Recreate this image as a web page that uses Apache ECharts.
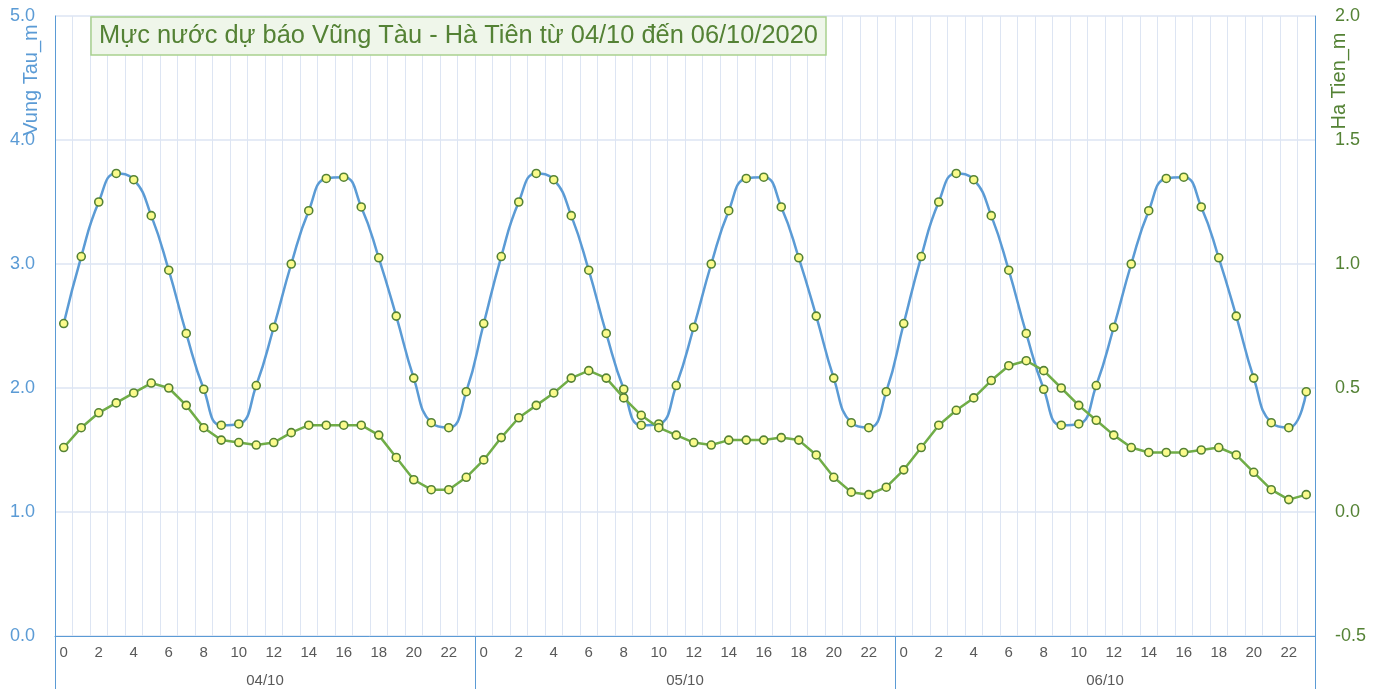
<!DOCTYPE html>
<html>
<head>
<meta charset="utf-8">
<script src="https://cdn.jsdelivr.net/npm/echarts@6/dist/echarts.min.js"></script>
<style>html,body{margin:0;padding:0;background:#fff;}#c{width:1383px;height:689px;}</style>
</head>
<body>
<div id="c"></div>
<script>
// ---- data ----
const titleText = 'Mực nước dự báo Vũng Tàu - Hà Tiên từ 04/10 đến 06/10/2020';
const dayLabels = ['04/10', '05/10', '06/10'];
const hourLabels = ['0','1','2','3','4','5','6','7','8','9','10','11','12','13','14','15','16','17','18','19','20','21','22','23'];
const leftTicks = [0, 1, 2, 3, 4, 5];
const rightTicks = [-0.5, 0, 0.5, 1.0, 1.5, 2.0];

// Vung Tau (m), left axis
const vungTauDay1 = [2.52, 3.06, 3.50, 3.73, 3.68, 3.39, 2.95, 2.44, 1.99, 1.70, 1.71, 2.02, 2.49, 3.00, 3.43, 3.69, 3.70, 3.46, 3.05, 2.58, 2.08, 1.72, 1.68, 1.97];
const vungTauDay2 = [2.52, 3.06, 3.50, 3.73, 3.68, 3.39, 2.95, 2.44, 1.99, 1.70, 1.71, 2.02, 2.49, 3.00, 3.43, 3.69, 3.70, 3.46, 3.05, 2.58, 2.08, 1.72, 1.68, 1.97];
const vungTauDay3 = [2.52, 3.06, 3.50, 3.73, 3.68, 3.39, 2.95, 2.44, 1.99, 1.70, 1.71, 2.02, 2.49, 3.00, 3.43, 3.69, 3.70, 3.46, 3.05, 2.58, 2.08, 1.72, 1.68, 1.97];

// Ha Tien (m), right axis
const haTienDay1 = [0.26, 0.34, 0.40, 0.44, 0.48, 0.52, 0.50, 0.43, 0.34, 0.29, 0.28, 0.27, 0.28, 0.32, 0.35, 0.35, 0.35, 0.35, 0.31, 0.22, 0.13, 0.09, 0.09, 0.14];
const haTienDay2 = [0.21, 0.30, 0.38, 0.43, 0.48, 0.54, 0.57, 0.54, 0.46, 0.39, 0.34, 0.31, 0.28, 0.27, 0.29, 0.29, 0.29, 0.30, 0.29, 0.23, 0.14, 0.08, 0.07, 0.10];
const haTienDay3 = [0.17, 0.26, 0.35, 0.41, 0.46, 0.53, 0.59, 0.61, 0.57, 0.50, 0.43, 0.37, 0.31, 0.26, 0.24, 0.24, 0.24, 0.25, 0.26, 0.23, 0.16, 0.09, 0.05, 0.07];

// ---- build ----
const categories = [];
dayLabels.forEach(() => hourLabels.forEach(h => categories.push(h)));
const vungTau = vungTauDay1.concat(vungTauDay2, vungTauDay3);
const haTien = haTienDay1.concat(haTienDay2, haTienDay3);

const FONT = '"Liberation Sans", Arial, sans-serif';
const BLUE = '#5b9bd5';
const GREEN_TXT = '#548235';
const GRID_C = '#dde5f3';

const marker = {
  color: '#fbfb8c',
  borderColor: '#548235',
  borderWidth: 1.6
};

const chart = echarts.init(document.getElementById('c'), null, { renderer: 'canvas' });
chart.setOption({
  animation: false,
  textStyle: { fontFamily: FONT },
  title: {
    text: titleText,
    left: 91,
    top: 17,
    padding: [5, 8, 5, 8],
    backgroundColor: '#eff6ea',
    borderColor: '#a9d18e',
    borderWidth: 1.5,
    textStyle: { color: GREEN_TXT, fontSize: 25.4, fontWeight: 'normal', fontFamily: FONT, lineHeight: 28 }
  },
  grid: { left: 55, right: 68, top: 16, bottom: 53, containLabel: false },
  graphic: [
    {
      type: 'text', x: 31, y: 80, rotation: Math.PI / 2,
      style: { text: 'Vung Tau_m', fill: BLUE, font: '20px ' + FONT, textAlign: 'center', textVerticalAlign: 'middle' }
    },
    {
      type: 'text', x: 1339, y: 81, rotation: Math.PI / 2,
      style: { text: 'Ha Tien_m', fill: GREEN_TXT, font: '20px ' + FONT, textAlign: 'center', textVerticalAlign: 'middle' }
    }
  ],
  xAxis: [
    {
      type: 'category',
      data: categories,
      boundaryGap: true,
      axisLine: { show: true, onZero: false, lineStyle: { color: BLUE, width: 1 } },
      axisTick: { show: false },
      axisLabel: { interval: 1, color: '#595959', fontSize: 15, margin: 9, fontFamily: FONT },
      splitLine: { show: true, interval: 0, lineStyle: { color: GRID_C, width: 1 } }
    },
    {
      type: 'category',
      data: dayLabels,
      position: 'bottom',
      boundaryGap: true,
      axisLine: { show: false, onZero: false },
      axisTick: { show: true, interval: 0, length: 53, lineStyle: { color: BLUE, width: 1 } },
      axisLabel: { color: '#595959', fontSize: 15, margin: 37, fontFamily: FONT },
      splitLine: { show: false }
    }
  ],
  yAxis: [
    {
      type: 'value',
      position: 'left',
      min: leftTicks[0],
      max: leftTicks[leftTicks.length - 1],
      interval: 1,
      axisLine: { show: true, onZero: false, lineStyle: { color: BLUE, width: 1 } },
      axisTick: { show: false },
      axisLabel: { color: BLUE, fontSize: 18, margin: 20, formatter: v => v.toFixed(1), fontFamily: FONT },
      splitLine: { show: false }
    },
    {
      type: 'value',
      position: 'right',
      min: rightTicks[0],
      max: rightTicks[rightTicks.length - 1],
      interval: 0.5,
      axisLine: { show: true, onZero: false, lineStyle: { color: BLUE, width: 1 } },
      axisTick: { show: false },
      axisLabel: { color: GREEN_TXT, fontSize: 18, margin: 20, formatter: v => v.toFixed(1), fontFamily: FONT },
      splitLine: { show: true, lineStyle: { color: GRID_C, width: 1.5 } }
    }
  ],
  series: [
    {
      name: 'Vung Tau_m',
      type: 'line',
      xAxisIndex: 0,
      yAxisIndex: 0,
      data: vungTau,
      smooth: 0.5,
      symbol: 'circle',
      symbolSize: 8,
      lineStyle: { color: BLUE, width: 2.5 },
      itemStyle: marker,
      z: 3
    },
    {
      name: 'Ha Tien_m',
      type: 'line',
      xAxisIndex: 0,
      yAxisIndex: 1,
      data: haTien,
      smooth: false,
      symbol: 'circle',
      symbolSize: 8,
      lineStyle: { color: '#70ad47', width: 2.5 },
      itemStyle: marker,
      z: 4
    }
  ]
});
</script>
</body>
</html>
